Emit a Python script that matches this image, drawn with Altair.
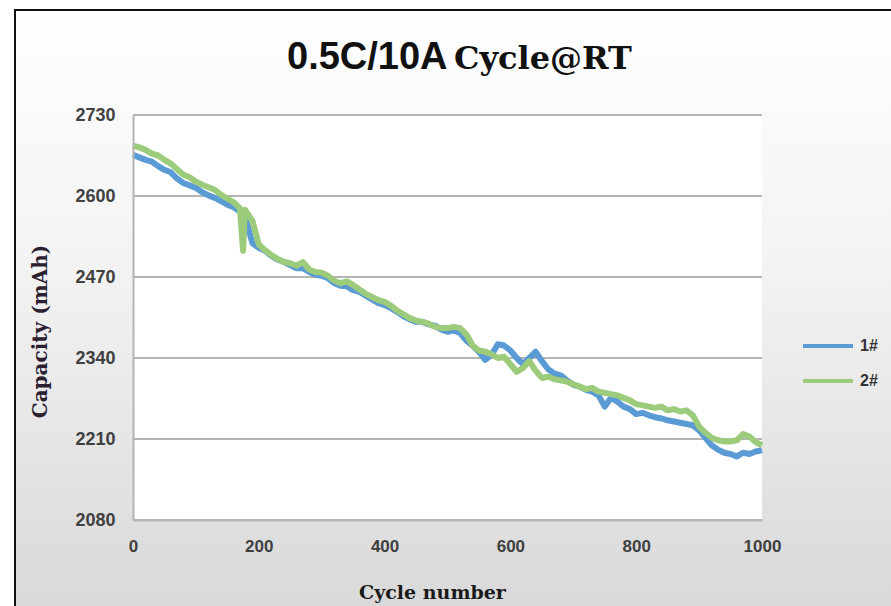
import altair as alt
import pandas as pd

# ---------------- data ----------------
series_names = ["1#", "2#"]
series_colors = ["#5B9BD5", "#9BCB7B"]

blue_cycles = list(range(0, 1001, 10))
blue_cap = [2666, 2662, 2658, 2655, 2648, 2642, 2638, 2628, 2621, 2617,
            2613, 2606, 2601, 2597, 2592, 2586, 2582, 2575, 2560, 2524,
            2517, 2512, 2504, 2498, 2494, 2489, 2484, 2484, 2478, 2474,
            2472, 2468, 2460, 2456, 2455, 2449, 2446, 2440, 2434, 2428,
            2425, 2420, 2414, 2407, 2402, 2398, 2398, 2394, 2392, 2386,
            2382, 2384, 2380, 2368, 2360, 2350, 2337, 2345, 2362, 2360,
            2352, 2340, 2330, 2340, 2350, 2335, 2322, 2315, 2312, 2304,
            2297, 2294, 2289, 2286, 2280, 2262, 2276, 2270, 2262, 2258,
            2250, 2252, 2248, 2245, 2243, 2240, 2238, 2236, 2234, 2232,
            2224, 2212, 2200, 2193, 2188, 2186, 2182, 2188, 2186, 2190,
            2192]

green_cycles = list(range(0, 171, 10)) + [175, 178] + list(range(180, 1001, 10))
green_cap = [2681, 2678, 2674, 2668, 2665, 2658, 2652, 2643, 2634, 2630,
             2623, 2618, 2614, 2610, 2602, 2596, 2590, 2580,
             2512, 2578,
             2575, 2560, 2522, 2513, 2505, 2499, 2494, 2492, 2488, 2494,
             2482, 2478, 2477, 2472, 2464, 2460, 2463, 2457, 2450, 2443,
             2438, 2433, 2430, 2424, 2416, 2410, 2404, 2400, 2398, 2395,
             2390, 2388, 2388, 2390, 2388, 2378, 2360, 2352, 2350, 2346,
             2340, 2342, 2330, 2318, 2324, 2335, 2320, 2308, 2310, 2306,
             2304, 2302, 2298, 2294, 2290, 2292, 2286, 2284, 2282, 2280,
             2276, 2272, 2266, 2264, 2262, 2260, 2262, 2256, 2258, 2254,
             2256, 2248, 2230, 2220, 2212, 2208, 2206, 2206, 2208, 2218,
             2214, 2205, 2200]

y_ticks = [2080, 2210, 2340, 2470, 2600, 2730]
x_ticks = [0, 200, 400, 600, 800, 1000]

title_part1 = "0.5C/10A"
title_part2 = "Cycle@RT"

# ---------------- tables ----------------
df = pd.concat([
    pd.DataFrame({"cycle": blue_cycles, "cap": blue_cap, "series": series_names[0]}),
    pd.DataFrame({"cycle": green_cycles, "cap": green_cap, "series": series_names[1]}),
], ignore_index=True)
grid_df = pd.DataFrame({"v": y_ticks})
one = pd.DataFrame({"a": [0]})

W, H = 629, 405
SANS = "Liberation Sans"
SERIF = "DejaVu Serif"

xscale = alt.Scale(domain=[0, 1000], nice=False, zero=False)
yscale = alt.Scale(domain=[2080, 2730], nice=False, zero=False)

xaxis = alt.Axis(values=x_ticks, format="d", grid=False, ticks=False, domainColor="#b4b4b4", domainWidth=2,
                 labelFont=SANS, labelFontWeight="bold", labelFontSize=17,
                 labelColor="#404040", labelPadding=18, labelFlush=False,
                 title="Cycle number", titleFont=SERIF, titleFontSize=19, titleFontWeight="bold",
                 titleColor="#1a1a1a", titleX=299, titleY=72, titleBaseline="middle", zindex=1)
yaxis = alt.Axis(values=y_ticks, format="d", grid=False, ticks=False, domainColor="#b4b4b4", domainWidth=2,
                 labelFont=SANS, labelFontWeight="bold", labelFontSize=18,
                 labelColor="#404040", labelPadding=18,
                 title="Capacity (mAh)", titleFont=SERIF, titleFontSize=20, titleFontWeight="bold",
                 titleColor="#2a2030", titleAngle=270, titleX=-93, titleY=216,
                 titleBaseline="middle", titleAlign="center", zindex=1)

bg = alt.Chart(one).mark_rect(
    color=alt.LinearGradient(gradient="linear", x1=0, x2=0, y1=0, y2=1,
                             stops=[alt.GradientStop(color="#ffffff", offset=0),
                                    alt.GradientStop(color="#f2f2f2", offset=0.45),
                                    alt.GradientStop(color="#d9d9d9", offset=1)])
).encode(x=alt.value(-118), x2=alt.value(758), y=alt.value(-105), y2=alt.value(491))

plotbg = alt.Chart(one).mark_rect(color="white").encode(
    x=alt.value(0), x2=alt.value(W), y=alt.value(0), y2=alt.value(H))

border_left = alt.Chart(one).mark_rule(color="#111111", strokeWidth=2).encode(
    x=alt.value(-118), y=alt.value(-106), y2=alt.value(491))
border_top = alt.Chart(one).mark_rule(color="#111111", strokeWidth=2).encode(
    x=alt.value(-119), x2=alt.value(758), y=alt.value(-105))

grid = alt.Chart(grid_df).mark_rule(color="#b4b4b4", strokeWidth=2).encode(
    y=alt.Y("v:Q", scale=yscale, axis=yaxis))

lines = alt.Chart(df).mark_line(strokeWidth=6, strokeJoin="round").encode(
    x=alt.X("cycle:Q", scale=xscale, axis=xaxis),
    y=alt.Y("cap:Q", scale=yscale, axis=yaxis),
    color=alt.Color("series:N",
                    scale=alt.Scale(domain=series_names, range=series_colors),
                    legend=alt.Legend(title=None, orient="none", legendX=668, legendY=204,
                                      symbolType="stroke", symbolStrokeWidth=4, symbolSize=2500,
                                      labelFont=SANS, labelFontWeight="bold",
                                      labelFontSize=16, labelColor="#333333",
                                      rowPadding=-13, labelOffset=5)),
    order=alt.Order("cycle:Q"),
)

t1 = alt.Chart(one).mark_text(text=title_part1, font=SANS, fontWeight="bold", fontSize=38,
                              align="left", baseline="alphabetic", color="#111111").encode(
    x=alt.value(154), y=alt.value(-46))
t2 = alt.Chart(one).mark_text(text=title_part2, font=SERIF, fontWeight="bold", fontSize=32,
                              align="left", baseline="alphabetic", color="#111111").encode(
    x=alt.value(321), y=alt.value(-46))

chart = alt.layer(bg, plotbg, border_left, border_top, grid, lines, t1, t2).properties(
    width=W, height=H,
    autosize=alt.AutoSizeParams(type="none"),
    padding={"left": 133, "top": 115, "right": 129, "bottom": 86},
    background="white",
).configure_view(stroke=None)

chart.save("out.html", embed_options={"renderer": "svg", "actions": False})
